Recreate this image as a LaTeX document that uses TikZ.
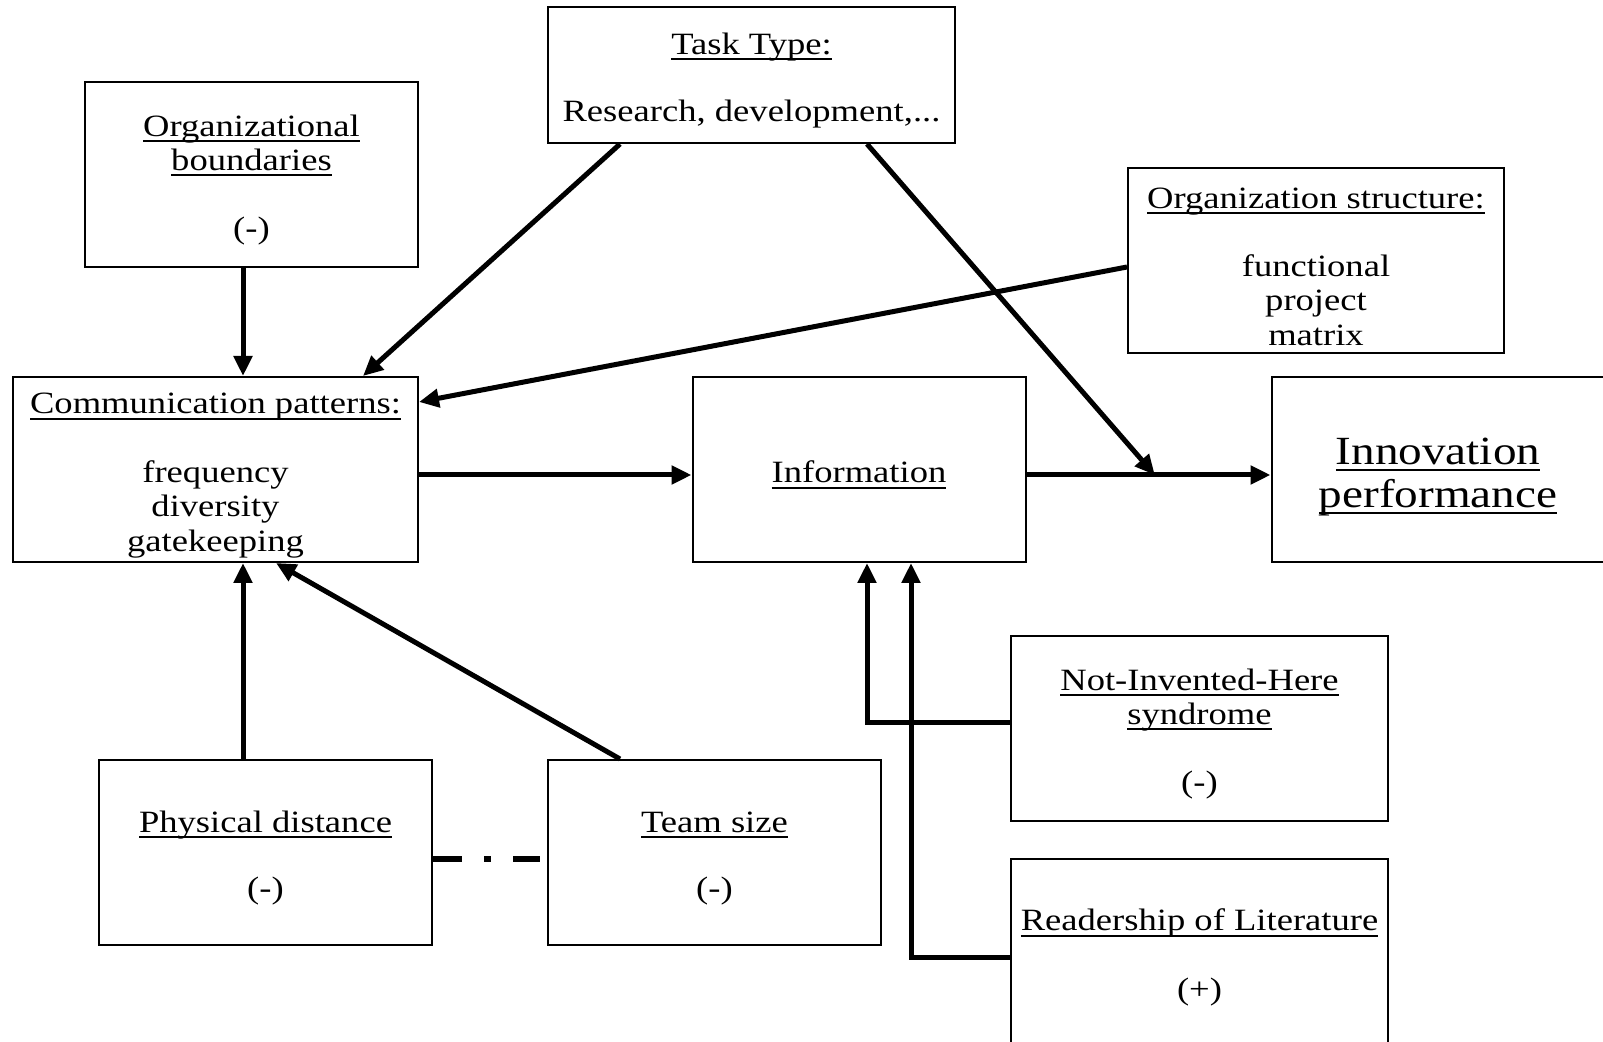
\documentclass[tikz,border=0pt]{standalone}
\usepackage{fontspec}
\setmainfont{Liberation Serif}[FakeStretch=1.18]
\usetikzlibrary{arrows.meta,calc}
\newcommand{\hdl}[1]{\setbox0\hbox{#1}\rlap{\rule[-2.9pt]{\wd0}{0.9pt}}\box0}
\newcommand{\hdt}[2][16.3pt]{\hdl{\rule{0pt}{#1}#2}}

\begin{document}
\begin{tikzpicture}[x=0.5pt,y=-0.5pt,
    box/.style={draw,line width=1pt,minimum width=166.5pt,minimum height=92.5pt,inner sep=0pt,align=center,font=\fontsize{15.5}{17.2}\selectfont},
    arr/.style={line width=2.5pt,-{Triangle[length=10pt,width=9pt]}}]
    \useasboundingbox (0,0) rectangle (1603,1042);
    \clip (0,0) rectangle (1603,1042);
    \node[box] (orgb) at (251.5,174.5) {\hdt{Organizational}\\\hdl{boundaries}\\[17pt](-)};
    \node[box,minimum width=203.5pt,minimum height=68pt] (task) at (751.5,75) {\hdt{Task Type:}\\[16.5pt]Research, development,...};
    \node[box,minimum width=188pt] (orgs) at (1316,260.5) {\hdt{Organization structure:}\\[17pt]functional\\project\\matrix};
    \node[box,minimum width=202.5pt] (comm) at (215.5,469.5) {\hdt{Communication patterns:}\\[17pt]frequency\\diversity\\gatekeeping};
    \node[box] (info) at (859,469.5) {\hdt{Information}};
    \node[box,font=\fontsize{20}{21.5}\selectfont] (innov) at (1438,469.5) {\hdt[21.2pt]{Innovation}\\\hdl{performance}};
    \node[box,minimum width=188.5pt] (nih) at (1199.5,728.5) {\hdt{Not-Invented-Here}\\\hdl{syndrome}\\[17pt](-)};
    \node[box,minimum width=188.5pt,minimum height=93pt] (read) at (1199.5,952) {\hdt{Readership of Literature}\\[17pt](+)};
    \node[box] (phys) at (265.5,852.5) {\hdt{Physical distance}\\[16pt](-)};
    \node[box] (team) at (714.5,852.5) {\hdt{Team size}\\[16pt](-)};
    \coordinate (join) at ($([yshift=-2.75pt]info.east)!0.526!([yshift=-2.75pt]innov.west)$);
    \draw[arr] ([xshift=-4.25pt]orgb.south) -- ([xshift=-4.25pt]orgb.south |- comm.north);
    \draw[arr] ([xshift=-65.75pt]task.south) -- ([xshift=73.75pt]comm.north);
    \draw[arr] ([yshift=-2.75pt]comm.east) -- ([yshift=-2.75pt]info.west);
    \draw[arr] ([yshift=-2.75pt]info.east) -- ([yshift=-2.75pt]innov.west);
    \draw[arr] ([xshift=57.75pt]task.south) -- (join);
    \draw[arr] ([yshift=-3.25pt]orgs.west) -- ([yshift=33.75pt]comm.east);
    \draw[arr] ([xshift=-11.25pt]phys.north) -- ([xshift=-11.25pt]phys.north |- comm.south);
    \draw[arr] ([xshift=-47.25pt]team.north) -- ([xshift=30.25pt]comm.south);
    \draw[line width=3pt,dash pattern=on 14.5pt off 11pt on 3.5pt off 11pt on 14pt off 20pt,shorten >=3.5pt] ([yshift=-3.25pt]phys.east) -- ([yshift=-3.25pt]team.west);
    \draw[arr] ([yshift=2.75pt]nih.west) -| ([xshift=4pt]info.south);
    \draw[arr] ([yshift=-3pt]read.west) -| ([xshift=26pt]info.south);
\end{tikzpicture}
\end{document}
